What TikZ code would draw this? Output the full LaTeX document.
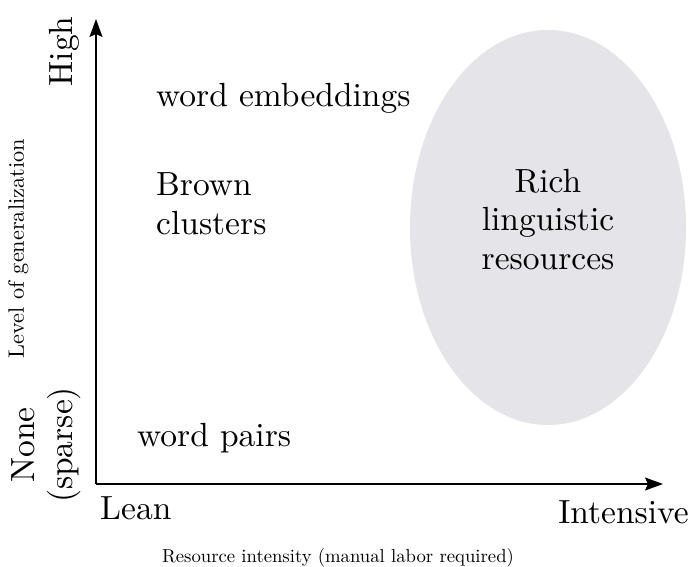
\documentclass[tikz,border=0pt]{standalone}
\usepackage{fontspec}
\setmainfont{lmroman10-regular.otf}
\usetikzlibrary{arrows.meta,shapes.geometric}
\definecolor{ellfill}{RGB}{228,228,233}
\tikzset{
  big/.style={inner sep=0pt, font=\fontsize{33.5}{38.5}\selectfont},
  xsmall/.style={inner sep=0pt, font=\fontsize{18.7}{22}\selectfont},
  ysmall/.style={inner sep=0pt, font=\fontsize{22.3}{26}\selectfont},
  axis/.style={line width=1.1pt, -{Stealth[length=18pt,width=13pt,inset=3pt]}},
}
\begin{document}
\begin{tikzpicture}[x=1pt,y=1pt]
\useasboundingbox (0,0) rectangle (692,566);
% ellipse
\node[ellipse, fill=ellfill, minimum width=276pt, minimum height=395pt, inner sep=0pt] (rich) at (548,338.5) {};
\node[big, align=center, anchor=south] (richtext) at (548,296) {Rich\\linguistic\\resources};
% axes
\coordinate (origin) at (96,82);
\coordinate (ytip) at (96,547);
\coordinate (xtip) at (663,82);
\draw[axis] (origin) -- (ytip);
\draw[axis] (origin) -- (xtip);
% texts
\node[big, anchor=base west] (emb) at (156,459) {word embeddings};
\node[big, align=left, anchor=south west] (brown) at (156,331) {Brown\\clusters};
\node[big, anchor=base west] (pairs) at (137,120) {word pairs};
\node[big, anchor=base west] (lean) at (100,47) {Lean};
\node[big, anchor=base east] (intensive) at (689,43) {Intensive};
\node[big, rotate=90, anchor=base] (high) at (72,514.5) {High};
\node[big, rotate=90, align=center, anchor=center] (none) at (46,121) {None\\(sparse)};
\node[ysmall, rotate=90, anchor=base] (ylabel) at (24,317.5) {Level of generalization};
\node[xsmall, anchor=base] (xlabel) at (338,4) {Resource intensity (manual labor required)};
\end{tikzpicture}
\end{document}
